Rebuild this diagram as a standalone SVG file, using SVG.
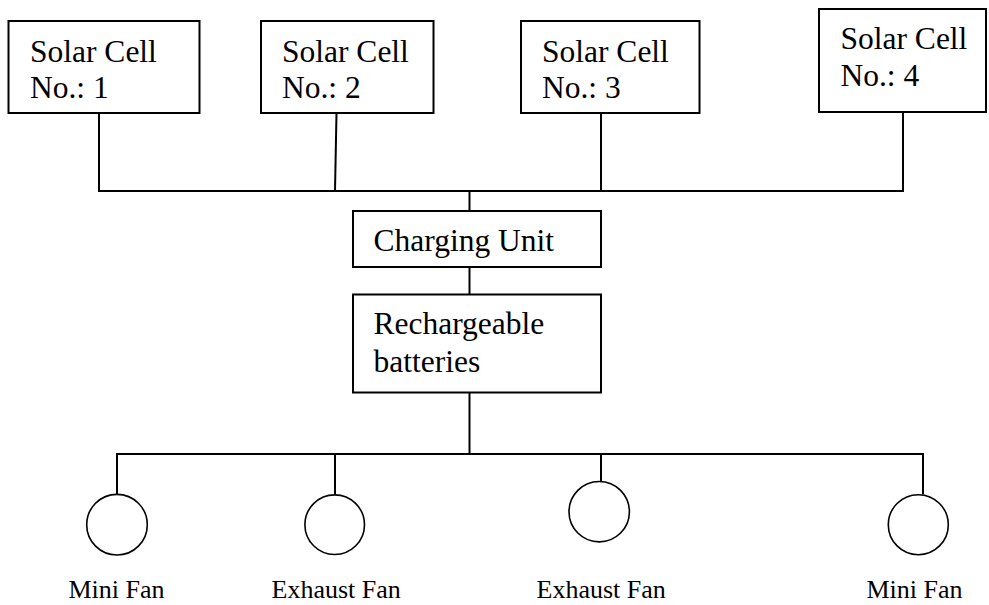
<svg xmlns="http://www.w3.org/2000/svg" width="989" height="605" viewBox="0 0 989 605">
<style>
.box{fill:#fff;stroke:#000;stroke-width:2}
.fan{fill:#fff;stroke:#000;stroke-width:1.6}
.t{font-family:"Liberation Serif","Times New Roman",serif;font-size:31.5px;fill:#000}
.lbl{font-family:"Liberation Serif","Times New Roman",serif;font-size:26px;fill:#000}
.wire{fill:none;stroke:#000;stroke-width:2}
</style>
<rect width="989" height="605" fill="#fff"/>
<g id="connectors" class="wire">
<line x1="99" y1="113" x2="99" y2="191"/>
<line x1="336.5" y1="113" x2="335" y2="191"/>
<line x1="601" y1="113" x2="601" y2="191"/>
<line x1="903" y1="112" x2="903" y2="191"/>
<line x1="98" y1="191" x2="904" y2="191"/>
<line x1="469.5" y1="191" x2="469.5" y2="211"/>
<line x1="469.5" y1="267" x2="469.5" y2="294"/>
<line x1="469.5" y1="392" x2="469.5" y2="454"/>
<line x1="116.5" y1="454" x2="923.5" y2="454"/>
<line x1="117" y1="453" x2="117" y2="494.5"/>
<line x1="335" y1="454" x2="335" y2="494.5"/>
<line x1="601" y1="454" x2="601" y2="482"/>
<line x1="923" y1="453" x2="923" y2="494.5"/>
</g>
<g id="solar1"><rect class="box" x="8.5" y="21" width="191" height="92"/><text class="t" x="30" y="62">Solar Cell</text><text class="t" x="30" y="98">No.: 1</text></g>
<g id="solar2"><rect class="box" x="261" y="21" width="172.5" height="92"/><text class="t" x="282" y="62">Solar Cell</text><text class="t" x="282" y="98">No.: 2</text></g>
<g id="solar3"><rect class="box" x="521" y="21" width="178.5" height="92"/><text class="t" x="542" y="62">Solar Cell</text><text class="t" x="542" y="98">No.: 3</text></g>
<g id="solar4"><rect class="box" x="819" y="9" width="167" height="103"/><text class="t" x="840.5" y="49">Solar Cell</text><text class="t" x="840.5" y="86">No.: 4</text></g>
<g id="charging"><rect class="box" x="353" y="211" width="248" height="56"/><text class="t" x="373.5" y="251">Charging Unit</text></g>
<g id="batteries"><rect class="box" x="353" y="294.5" width="248" height="98"/><text class="t" x="373.5" y="334">Rechargeable</text><text class="t" x="373.5" y="371.5">batteries</text></g>
<g id="fan1"><circle class="fan" cx="117" cy="524.7" r="30.3"/><text class="lbl" x="68.5" y="598">Mini Fan</text></g>
<g id="fan2"><circle class="fan" cx="334.7" cy="524.7" r="29.8"/><text class="lbl" x="271.5" y="598">Exhaust Fan</text></g>
<g id="fan3"><circle class="fan" cx="599.2" cy="511.7" r="30.2"/><text class="lbl" x="536.5" y="598">Exhaust Fan</text></g>
<g id="fan4"><circle class="fan" cx="918.3" cy="524.7" r="30"/><text class="lbl" x="866.5" y="598">Mini Fan</text></g>
</svg>
